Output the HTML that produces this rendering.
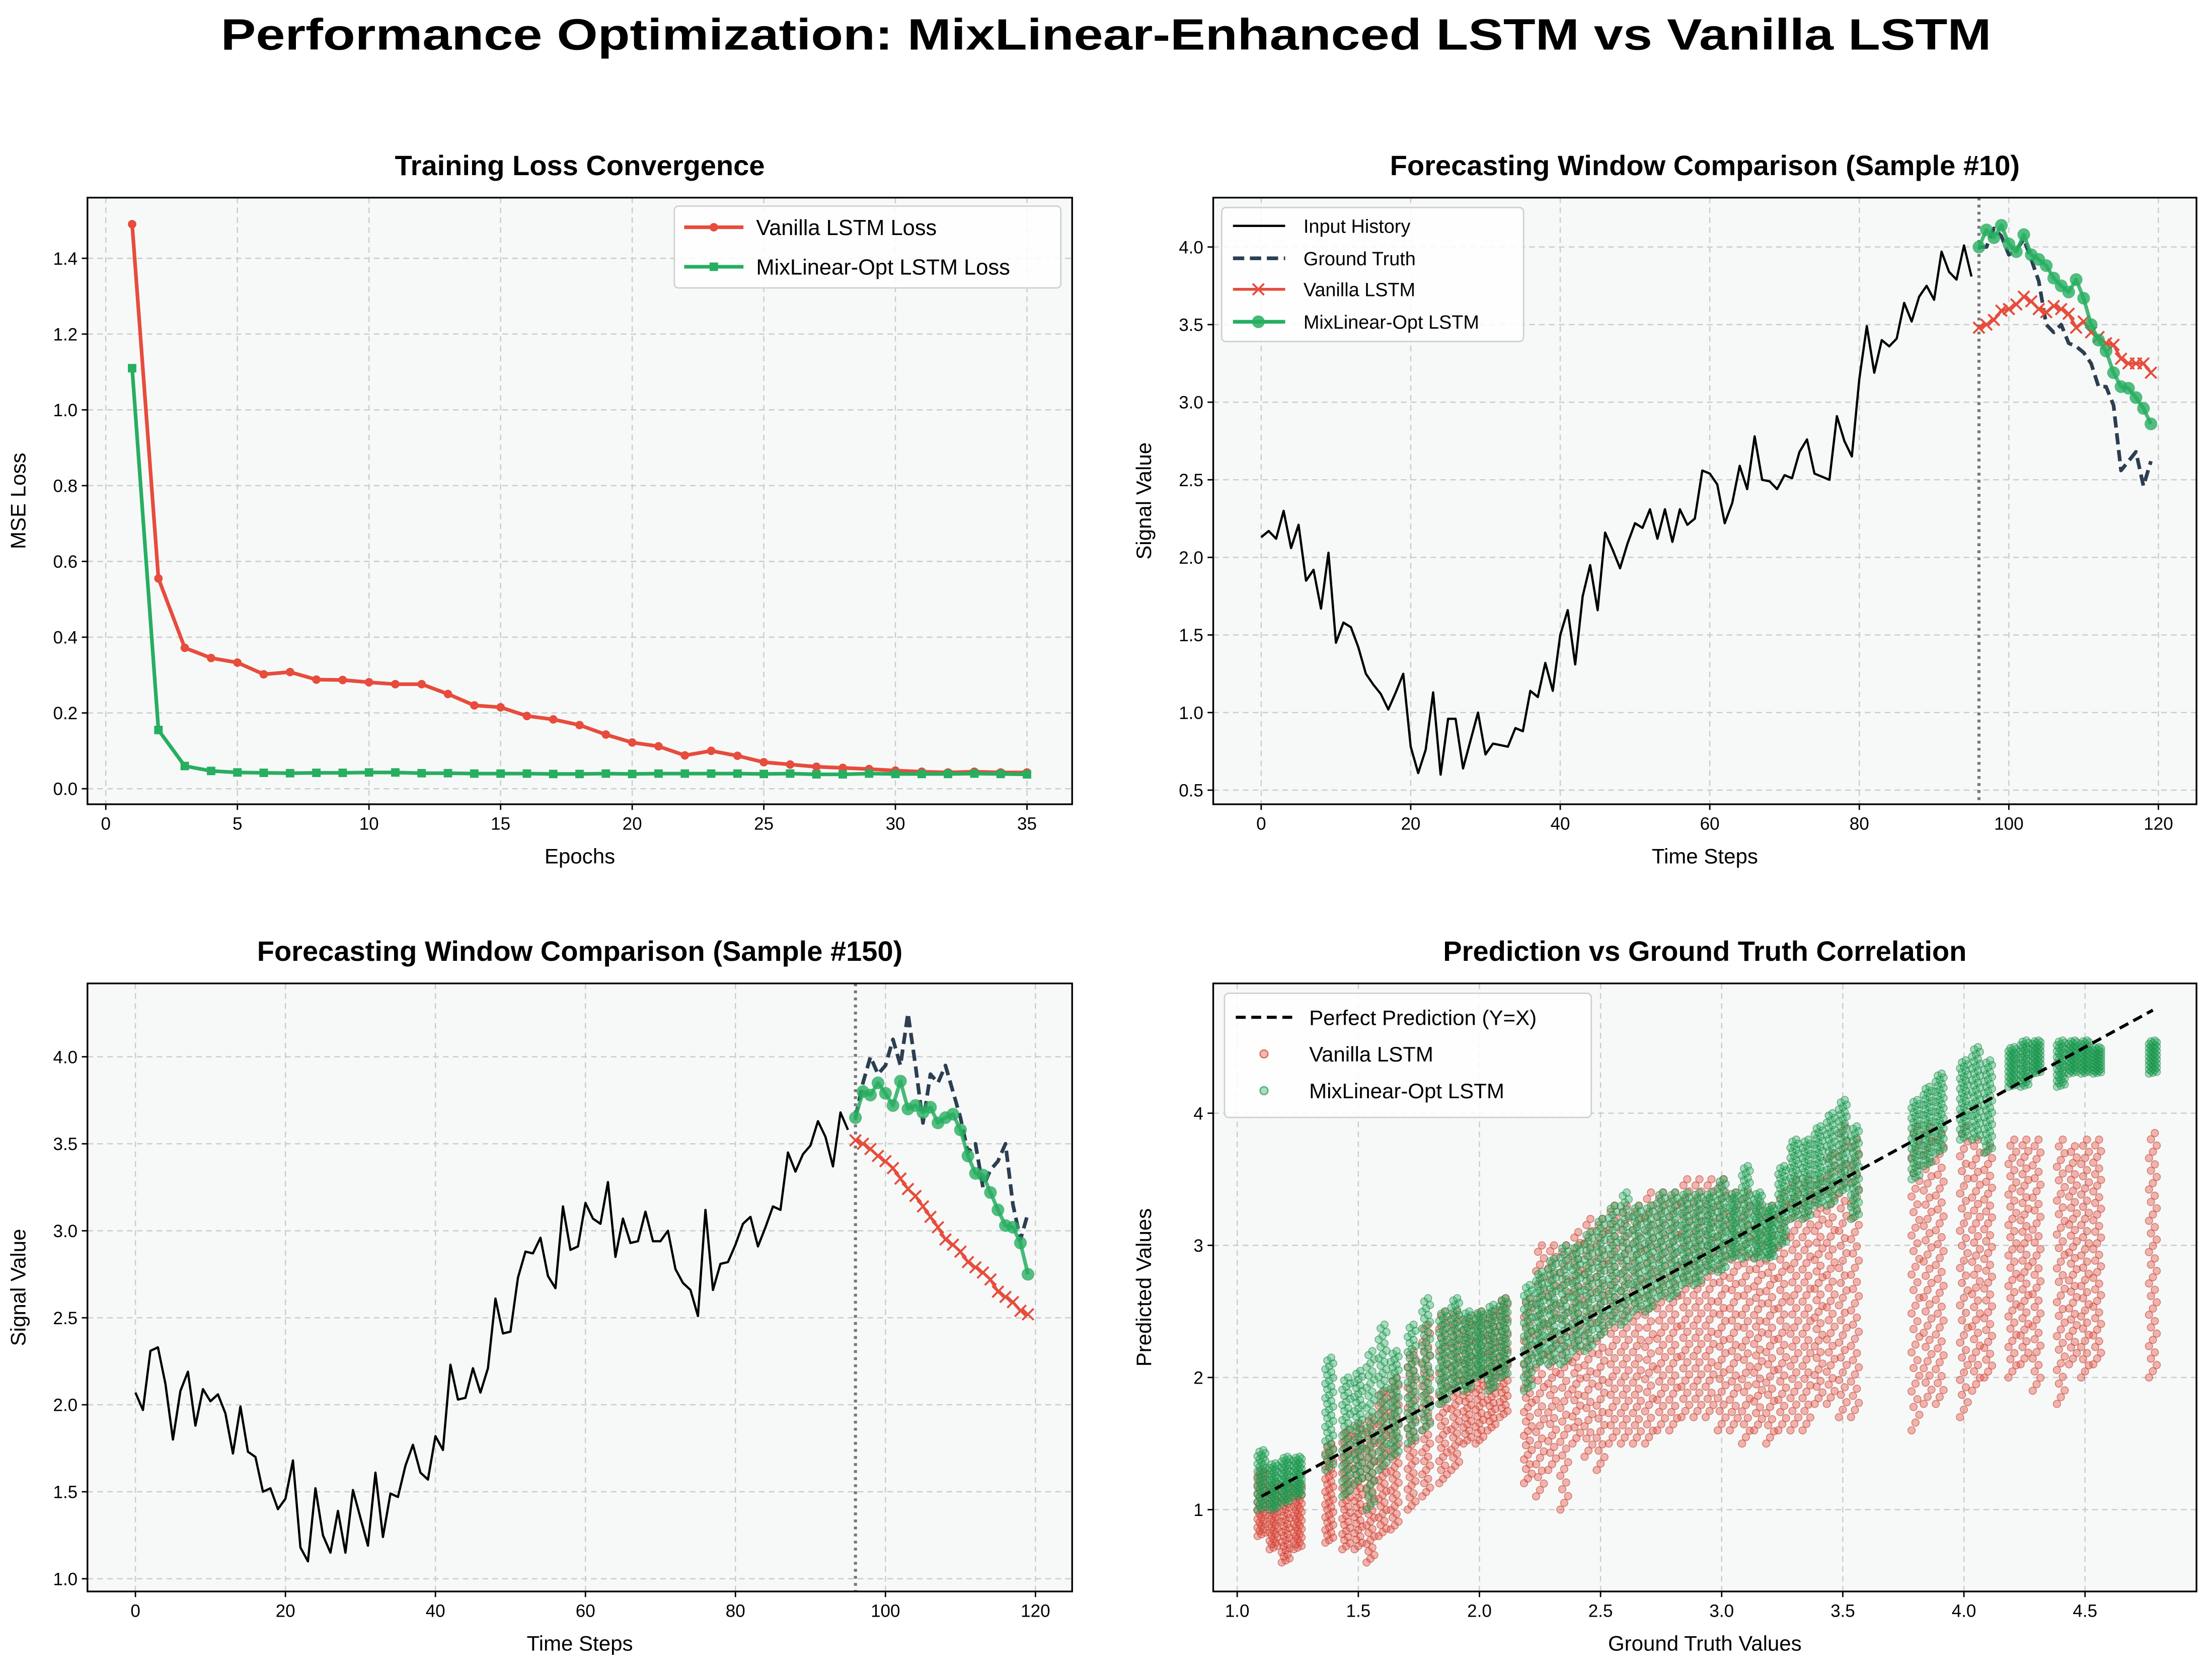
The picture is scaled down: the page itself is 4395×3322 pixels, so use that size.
<!DOCTYPE html>
<html><head><meta charset="utf-8"><style>
html,body{margin:0;padding:0;background:#fff}
svg{display:block;font-family:"Liberation Sans",Arial,sans-serif}
</style></head><body>
<svg id="fig" xmlns="http://www.w3.org/2000/svg" width="4395" height="3322" viewBox="0 0 1568 1185">
<rect x="0" y="0" width="1568" height="1185" fill="#fff"/>
<text x="784" y="35" text-anchor="middle" font-size="31" font-weight="bold" textLength="1255" lengthAdjust="spacingAndGlyphs">Performance Optimization: MixLinear-Enhanced LSTM vs Vanilla LSTM</text>
<g id="layer"></g>
</svg>
<script>
// ---------- data ----------
const epochs = Array.from({length:35},(_, i)=>i+1);
const vanLoss = [1.49,0.555,0.372,0.345,0.333,0.302,0.308,0.288,0.287,0.281,0.276,0.276,0.25,0.22,0.215,0.192,0.183,0.168,0.143,0.122,0.112,0.088,0.1,0.087,0.07,0.064,0.058,0.055,0.052,0.048,0.045,0.043,0.045,0.043,0.043];
const mixLoss = [1.11,0.155,0.06,0.047,0.043,0.042,0.041,0.042,0.042,0.043,0.043,0.041,0.041,0.04,0.04,0.04,0.039,0.039,0.04,0.039,0.04,0.04,0.04,0.04,0.039,0.04,0.038,0.038,0.04,0.039,0.039,0.039,0.04,0.039,0.038];

const s10Hist = [2.13,2.17,2.12,2.30,2.06,2.21,1.85,1.92,1.67,2.03,1.45,1.58,1.55,1.42,1.25,1.18,1.12,1.02,1.13,1.25,0.78,0.61,0.76,1.13,0.60,0.96,0.96,0.64,0.82,1.00,0.73,0.80,0.79,0.78,0.90,0.88,1.14,1.10,1.32,1.14,1.50,1.66,1.31,1.75,1.95,1.66,2.16,2.05,1.93,2.09,2.22,2.19,2.31,2.12,2.31,2.10,2.31,2.21,2.25,2.56,2.54,2.47,2.22,2.35,2.59,2.44,2.78,2.50,2.49,2.44,2.53,2.51,2.68,2.76,2.54,2.52,2.50,2.91,2.75,2.65,3.15,3.49,3.19,3.40,3.36,3.41,3.64,3.52,3.68,3.75,3.66,3.97,3.84,3.79,4.01,3.81];
const s10Truth = [4.00,4.00,4.12,4.07,3.95,3.98,4.05,3.92,3.78,3.50,3.45,3.50,3.38,3.36,3.32,3.25,3.10,3.10,2.98,2.56,2.62,2.68,2.46,2.62];
const s10Van = [3.48,3.50,3.53,3.59,3.60,3.63,3.68,3.65,3.60,3.58,3.62,3.60,3.57,3.48,3.52,3.45,3.42,3.38,3.37,3.28,3.25,3.25,3.25,3.19];
const s10Mix = [4.00,4.11,4.06,4.14,4.02,3.97,4.08,3.95,3.92,3.88,3.80,3.75,3.71,3.79,3.67,3.50,3.40,3.33,3.19,3.10,3.09,3.03,2.96,2.86];

const s150Hist = [2.07,1.97,2.31,2.33,2.12,1.80,2.08,2.19,1.88,2.09,2.02,2.06,1.95,1.72,1.99,1.73,1.70,1.50,1.52,1.40,1.46,1.68,1.18,1.10,1.52,1.25,1.15,1.39,1.15,1.51,1.35,1.19,1.61,1.24,1.49,1.47,1.65,1.77,1.61,1.57,1.82,1.74,2.23,2.03,2.04,2.21,2.07,2.21,2.61,2.41,2.42,2.73,2.88,2.87,2.96,2.74,2.67,3.14,2.89,2.91,3.16,3.07,3.04,3.28,2.85,3.07,2.93,2.94,3.11,2.94,2.94,3.00,2.78,2.70,2.66,2.51,3.12,2.66,2.81,2.82,2.92,3.04,3.08,2.91,3.02,3.14,3.12,3.45,3.34,3.44,3.49,3.63,3.54,3.37,3.68,3.58];
const s150Truth = [3.65,3.85,4.00,3.90,3.95,4.10,3.95,4.25,3.95,3.62,3.90,3.85,3.95,3.80,3.65,3.45,3.50,3.25,3.35,3.40,3.50,3.15,2.95,3.10];
const s150Van = [3.52,3.50,3.47,3.43,3.40,3.36,3.30,3.24,3.20,3.14,3.08,3.02,2.95,2.92,2.88,2.82,2.79,2.76,2.72,2.65,2.62,2.59,2.54,2.52];
const s150Mix = [3.65,3.80,3.78,3.85,3.79,3.72,3.86,3.70,3.72,3.68,3.71,3.62,3.65,3.67,3.58,3.43,3.33,3.32,3.22,3.12,3.03,3.02,2.93,2.75];

const gtCols = [1.1,1.15,1.2,1.25,1.38,1.45,1.5,1.55,1.6,1.65,1.72,1.78,1.85,1.9,1.95,2.0,2.05,2.1,2.2,2.25,2.3,2.35,2.4,2.45,2.5,2.55,2.6,2.65,2.7,2.75,2.8,2.85,2.9,2.95,3.0,3.05,3.1,3.15,3.2,3.25,3.3,3.35,3.4,3.45,3.5,3.55,3.8,3.85,3.9,4.0,4.05,4.1,4.2,4.25,4.3,4.4,4.45,4.5,4.55,4.78];
const vanLo = [0.8,0.7,0.6,0.7,0.75,0.7,0.7,0.6,0.8,0.85,1.0,1.1,1.2,1.3,1.5,1.5,1.6,1.7,1.2,1.1,1.3,1.0,1.5,1.4,1.3,1.5,1.5,1.5,1.5,1.6,1.6,1.7,1.7,1.7,1.6,1.6,1.5,1.6,1.5,1.6,1.6,1.6,1.8,1.8,1.7,1.7,1.6,1.8,1.8,1.7,1.9,2.0,2.0,2.1,1.9,1.8,2.1,2.0,2.1,2.0];
const vanHi = [1.3,1.2,1.2,1.2,1.5,1.6,1.65,1.7,1.9,2.0,2.2,2.4,2.5,2.5,2.45,2.5,2.5,2.6,2.6,3.0,3.0,3.0,3.1,3.2,3.2,3.3,3.3,3.3,3.4,3.4,3.4,3.5,3.5,3.5,3.5,3.4,3.4,3.3,3.3,3.4,3.5,3.5,3.5,3.7,3.9,3.8,3.9,3.9,3.85,3.9,3.8,3.75,3.8,3.8,3.8,3.8,3.75,3.8,3.8,3.85];
const mixLo = [1.0,1.0,1.05,1.1,1.3,1.1,1.2,1.0,1.3,1.4,1.5,1.6,1.8,1.9,1.9,2.0,1.9,2.0,1.9,2.1,2.1,2.1,2.2,2.2,2.3,2.4,2.4,2.5,2.5,2.6,2.6,2.7,2.7,2.8,2.8,2.9,2.9,2.9,2.9,3.0,3.2,3.2,3.3,3.3,3.4,3.2,3.5,3.6,3.7,3.8,3.8,3.7,4.2,4.2,4.3,4.2,4.3,4.3,4.3,4.3];
const mixHi = [1.45,1.35,1.4,1.4,2.15,2.0,2.05,2.2,2.4,2.2,2.4,2.6,2.5,2.6,2.5,2.5,2.55,2.6,2.7,2.8,2.9,3.0,3.0,3.1,3.2,3.3,3.4,3.3,3.3,3.4,3.4,3.4,3.4,3.4,3.5,3.4,3.6,3.4,3.3,3.6,3.8,3.8,3.9,4.0,4.1,3.9,4.1,4.2,4.3,4.4,4.5,4.4,4.5,4.55,4.55,4.55,4.55,4.55,4.5,4.55];

const xTicks10 = [0,20,40,60,80,100,120];
const yTicksLoss = [0,0.2,0.4,0.6,0.8,1.0,1.2,1.4];
const xTicksLoss = [0,5,10,15,20,25,30,35];
const yTicks10 = [0.5,1.0,1.5,2.0,2.5,3.0,3.5,4.0];
const yTicks150 = [1.0,1.5,2.0,2.5,3.0,3.5,4.0];
const xTicksSc = [1.0,1.5,2.0,2.5,3.0,3.5,4.0,4.5];
const yTicksSc = [1,2,3,4];

// ---------- helpers ----------
const NS="http://www.w3.org/2000/svg";
const layer=document.getElementById('layer');
function el(tag,attrs,parent,txt){const e=document.createElementNS(NS,tag);for(const k in attrs)e.setAttribute(k,attrs[k]);if(txt!==undefined)e.textContent=txt;(parent||layer).appendChild(e);return e;}
function lin(d0,d1,p0,p1){return v=>p0+(v-d0)*(p1-p0)/(d1-d0);}
const RED="#e74c3c",GREEN="#27ae60",NAVY="#2c3e50";

function axes(name,box,sx,sy,xt,yt,xfmt,yfmt,title,xl,yl){
  const g=el('g',{});
  
  
  el('rect',{x:box.l,y:box.t,width:box.r-box.l,height:box.b-box.t,fill:'#f7f9f8'},g);
  const grid=el('g',{stroke:'#cccccc','stroke-width':0.9,'stroke-dasharray':'4,3'},g);
  
  
  xt.forEach(v=>{el('line',{x1:sx(v),x2:sx(v),y1:box.t,y2:box.b},grid);});
  yt.forEach(v=>{el('line',{x1:box.l,x2:box.r,y1:sy(v),y2:sy(v)},grid);});
  xt.forEach(v=>{
    el('line',{x1:sx(v),x2:sx(v),y1:box.b,y2:box.b+4,stroke:'#000','stroke-width':1},g);
    const t=el('text',{x:sx(v),y:box.b+18,'text-anchor':'middle','font-size':12.5},g,xfmt(v));
    
    
  });
  yt.forEach(v=>{
    el('line',{x1:box.l-4,x2:box.l,y1:sy(v),y2:sy(v),stroke:'#000','stroke-width':1},g);
    const t=el('text',{x:box.l-7,y:sy(v)+4.5,'text-anchor':'end','font-size':12.5},g,yfmt(v));
    
    
  });
  const tt=el('text',{x:(box.l+box.r)/2,y:box.t-16,'text-anchor':'middle','font-size':20,'font-weight':'bold'},g,title);
  
  
  const xa=el('text',{x:(box.l+box.r)/2,y:box.b+42,'text-anchor':'middle','font-size':15},g,xl);
  
  
  const cy=(box.t+box.b)/2;
  const ya=el('text',{x:box.l-44,y:cy,'text-anchor':'middle','font-size':15,transform:`rotate(-90 ${box.l-44} ${cy})`},g,yl);
  
  
  return g;
}
function frame(box){const f=el('rect',{x:box.l,y:box.t,width:box.r-box.l,height:box.b-box.t,fill:'none',stroke:'#000','stroke-width':1.2});
  
  }
function poly(xs,ys,sx,sy,attrs,name){const p=el('polyline',Object.assign({points:xs.map((x,i)=>sx(x)+','+sy(ys[i])).join(' '),fill:'none','stroke-linejoin':'round'},attrs));
  
  return p;}
function circles(xs,ys,sx,sy,r,fill,name,op){xs.forEach((x,i)=>{const c=el('circle',{cx:sx(x),cy:sy(ys[i]),r:r,fill:fill,'fill-opacity':op||1});
  
  });}
function squares(xs,ys,sx,sy,s,fill,name){xs.forEach((x,i)=>{const c=el('rect',{x:sx(x)-s/2,y:sy(ys[i])-s/2,width:s,height:s,fill:fill});
  
  });}
function crosses(xs,ys,sx,sy,s,col,name){xs.forEach((x,i)=>{const X=sx(x),Y=sy(ys[i]);const c=el('path',{d:`M${X-s},${Y-s}L${X+s},${Y+s}M${X-s},${Y+s}L${X+s},${Y-s}`,stroke:col,'stroke-width':1.4});
  
  });}
function legend(name,box,items,fs){
  const g=el('g',{});
  
  
  el('rect',{x:box.l,y:box.t,width:box.r-box.l,height:box.b-box.t,rx:3,fill:'#fff','fill-opacity':0.85,stroke:'#d0d0d0'},g);
  items.forEach(it=>{
    const e=el('g',{},g);
    
    
    it.draw(e);
    el('text',{x:it.tx,y:it.y+fs*0.36,'font-size':fs},e,it.label);
  });
}
const f1=v=>v.toFixed(1), f0=v=>String(v);

// ---------- Panel 1: loss ----------
{
const box={l:62,r:760,t:140,b:570};
const sx=lin(0,35,75,728), sy=lin(0,1.4,559,183);
axes('loss-panel',box,sx,sy,xTicksLoss,yTicksLoss,f0,f1,'Training Loss Convergence','Epochs','MSE Loss');
poly(epochs,vanLoss,sx,sy,{stroke:RED,'stroke-width':2.6},'vanilla-loss-line');
circles(epochs,vanLoss,sx,sy,3,RED,'vanilla-loss-point');
poly(epochs,mixLoss,sx,sy,{stroke:GREEN,'stroke-width':2.6},'mixlinear-loss-line');
squares(epochs,mixLoss,sx,sy,6,GREEN,'mixlinear-loss-point');
frame(box);
legend('loss-legend',{l:478,r:752,t:146,b:204},[
 {y:161,tx:536,label:'Vanilla LSTM Loss',draw:g=>{el('line',{x1:485,x2:527,y1:161,y2:161,stroke:RED,'stroke-width':2.6},g);el('circle',{cx:506,cy:161,r:3,fill:RED},g);}},
 {y:189,tx:536,label:'MixLinear-Opt LSTM Loss',draw:g=>{el('line',{x1:485,x2:527,y1:189,y2:189,stroke:GREEN,'stroke-width':2.6},g);el('rect',{x:503,y:186,width:6,height:6,fill:GREEN},g);}}
],15.5);
}

// ---------- forecast panels ----------
function forecast(name,box,sx,sy,yt,title,hist,truth,van,mix,leg){
  axes(name,box,sx,sy,xTicks10,yt,f0,f1,title,'Time Steps','Signal Value');
  const hx=hist.map((_,i)=>i), fx=truth.map((_,i)=>i+hist.length);
  poly(hx,hist,sx,sy,{stroke:'#000','stroke-width':1.6},'input-history-line');
  const vl=el('line',{x1:sx(96),x2:sx(96),y1:box.t,y2:box.b,stroke:'#777','stroke-width':2.2,'stroke-dasharray':'2,3'});
  
  
  poly(fx,truth,sx,sy,{stroke:NAVY,'stroke-width':2.6,'stroke-dasharray':'8,4'},'ground-truth-line');
  poly(fx,van,sx,sy,{stroke:RED,'stroke-width':2},'vanilla-forecast-line');
  crosses(fx,van,sx,sy,4,RED,'vanilla-forecast-point');
  poly(fx,mix,sx,sy,{stroke:GREEN,'stroke-width':2.6,'stroke-opacity':0.85},'mixlinear-forecast-line');
  circles(fx,mix,sx,sy,4.5,GREEN,'mixlinear-forecast-point',0.8);
  frame(box);
  if(leg){
   legend(name+'-legend',{l:866,r:1080,t:147,b:242},[
    {y:160,tx:924,label:'Input History',draw:g=>{el('line',{x1:874,x2:911,y1:160,y2:160,stroke:'#000','stroke-width':1.6},g);}},
    {y:183,tx:924,label:'Ground Truth',draw:g=>{el('line',{x1:874,x2:911,y1:183,y2:183,stroke:NAVY,'stroke-width':2.6,'stroke-dasharray':'8,4'},g);}},
    {y:205,tx:924,label:'Vanilla LSTM',draw:g=>{el('line',{x1:874,x2:911,y1:205,y2:205,stroke:RED,'stroke-width':2},g);el('path',{d:'M888,201L896,209M888,209L896,201',stroke:RED,'stroke-width':1.4},g);}},
    {y:228,tx:924,label:'MixLinear-Opt LSTM',draw:g=>{el('line',{x1:874,x2:911,y1:228,y2:228,stroke:GREEN,'stroke-width':2.6},g);el('circle',{cx:892,cy:228,r:4.5,fill:GREEN,'fill-opacity':0.85},g);}}
   ],13.5);
  }
}
forecast('sample10-panel',{l:860,r:1557,t:140,b:570},lin(0,120,894,1530),lin(0.5,4.0,560,175),yTicks10,'Forecasting Window Comparison (Sample #10)',s10Hist,s10Truth,s10Van,s10Mix,true);
forecast('sample150-panel',{l:62,r:760,t:697,b:1128},lin(0,120,96,734),lin(1.0,4.0,1119,749),yTicks150,'Forecasting Window Comparison (Sample #150)',s150Hist,s150Truth,s150Van,s150Mix,false);

// ---------- scatter ----------
{
const box={l:860,r:1557,t:697,b:1128};
const sx=lin(1.0,4.5,877,1478), sy=lin(1,4,1070,789);
axes('scatter-panel',box,sx,sy,xTicksSc,yTicksSc,f1,f0,'Prediction vs Ground Truth Correlation','Ground Truth Values','Predicted Values');
const N=40;
function cloud(lo,hi,fill,stroke,name){
  gtCols.forEach((x,ci)=>{
    for(let k=0;k<N;k++){
      const y=lo[ci]+(hi[ci]-lo[ci])*k/(N-1);
      const dx=((k*7)%5-2)*0.008;
      const c=el('circle',{cx:sx(x+dx),cy:sy(y),r:2.6,fill:fill,'fill-opacity':0.4,stroke:stroke,'stroke-opacity':0.55,'stroke-width':0.6});
      
      
    }
  });
}
cloud(vanLo,vanHi,RED,'#c0392b','vanilla-scatter-point');
cloud(mixLo,mixHi,GREEN,'#1e8449','mixlinear-scatter-point');
const lo=gtCols[0], hi=gtCols[gtCols.length-1];
const pl=el('line',{x1:sx(lo),y1:sy(lo),x2:sx(hi),y2:sy(hi),stroke:'#000','stroke-width':2.2,'stroke-dasharray':'7,4'});


frame(box);
legend('scatter-legend',{l:868,r:1128,t:704,b:792},[
 {y:721,tx:928,label:'Perfect Prediction (Y=X)',draw:g=>{el('line',{x1:876,x2:916,y1:721,y2:721,stroke:'#000','stroke-width':2.2,'stroke-dasharray':'7,4'},g);}},
 {y:747,tx:928,label:'Vanilla LSTM',draw:g=>{el('circle',{cx:896,cy:747,r:2.8,fill:RED,'fill-opacity':0.4,stroke:'#c0392b','stroke-opacity':0.6},g);}},
 {y:773,tx:928,label:'MixLinear-Opt LSTM',draw:g=>{el('circle',{cx:896,cy:773,r:2.8,fill:GREEN,'fill-opacity':0.4,stroke:'#1e8449','stroke-opacity':0.6},g);}}
],15);
}
</script>
</body></html>
